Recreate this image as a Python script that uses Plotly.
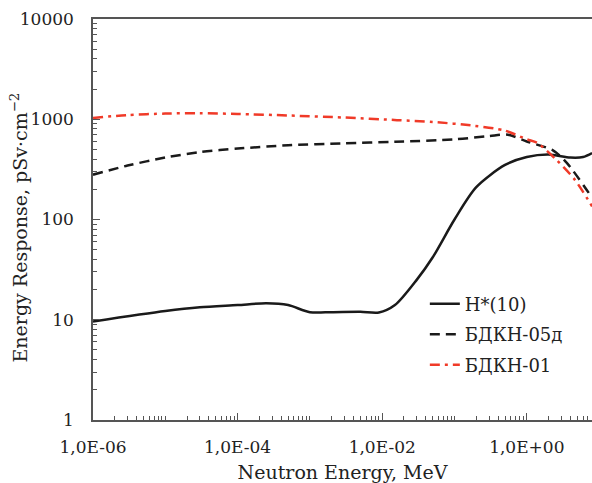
import plotly.graph_objects as go
import numpy as np

# Data
h_energy = [1e-6, 1e-5, 3e-5, 1e-4, 2.5e-4, 5e-4, 1e-3, 2e-3, 5e-3, 9e-3, 1.5e-2, 3e-2, 5e-2, 0.1, 0.2, 0.5, 1, 2, 4, 6, 8]
h_values = [9.6, 12.2, 13.3, 14.0, 14.6, 14.0, 11.9, 11.9, 12.0, 11.8, 14.0, 25, 42, 100, 210, 350, 420, 445, 415, 420, 460]

b05_energy = [1e-6, 3e-6, 1e-5, 3e-5, 1e-4, 5e-4, 3e-3, 1.5e-2, 0.1, 0.3, 0.55, 1, 2.3, 3.6, 8]
b05_values = [280, 345, 415, 470, 510, 550, 575, 595, 630, 680, 700, 600, 490, 365, 165]

b01_energy = [1e-6, 3e-6, 1e-5, 3e-5, 1e-4, 5e-4, 3e-3, 1.6e-2, 0.05, 0.19, 0.5, 1, 1.4, 2.6, 4.6, 8]
b01_values = [1030, 1100, 1140, 1150, 1130, 1090, 1040, 980, 940, 860, 770, 630, 580, 390, 250, 135]

series_names = ["H*(10)", "БДКН-05д", "БДКН-01"]

x_tick_vals = [1e-6, 1e-4, 1e-2, 1e0]
x_tick_text = ["1,0E-06", "1,0E-04", "1,0E-02", "1,0E+00"]
y_tick_vals = [1, 10, 100, 1000, 10000]
y_tick_text = ["1", "10", "100", "1000", "10000"]

x_title = "Neutron Energy, MeV"
y_title = "Energy Response, pSv·cm<sup>−2</sup>"

FONT = "DejaVu Serif"

fig = go.Figure()
fig.add_trace(go.Scatter(x=h_energy, y=h_values, name=series_names[0], mode="lines",
                         line=dict(color="#1a1a1a", width=2.5, shape="spline", smoothing=0.8),
                         legendgroup="a"))
fig.add_trace(go.Scatter(x=b05_energy, y=b05_values, name=series_names[1], mode="lines",
                         line=dict(color="#1a1a1a", width=2.5, dash="10px,6px", shape="spline", smoothing=0.8),
                         legendgroup="b"))
fig.add_trace(go.Scatter(x=b01_energy, y=b01_values, name=series_names[2], mode="lines",
                         line=dict(color="#f03a28", width=2.5, dash="10px,5px,3px,5px", shape="spline", smoothing=0.8),
                         legendgroup="c"))

# minor tick positions: every 2..9 multiple plus the unlabeled decades
minor_x = sorted([m * 10.0 ** d for d in range(-6, 1) for m in range(2, 10)] + [1e-5, 1e-3, 1e-1])
minor_y = [m * 10.0 ** d for d in range(0, 4) for m in range(2, 10)]

L, T, B = 93, 19, 63
W, H = 592, 483
plot_w = W - L

fig.update_layout(
    width=W, height=H,
    margin=dict(l=L, r=0, t=T, b=B),
    paper_bgcolor="white", plot_bgcolor="white",
    font=dict(family=FONT, size=17, color="#222"),
    showlegend=True,
    legend=dict(x=0.665, y=0.335, xanchor="left", yanchor="top",
                bgcolor="rgba(0,0,0,0)", font=dict(size=18, family=FONT),
                tracegroupgap=4, itemwidth=30),
    xaxis=dict(type="log", range=[-6, (592 - 93) / 72.3 - 6], automargin=False,
               tickvals=x_tick_vals, ticktext=x_tick_text,
               ticks="inside", ticklen=7, tickcolor="#555", tickwidth=1,
               showline=True, linecolor="#555", linewidth=1.5, mirror=True,
               showgrid=False, zeroline=False, ticklabelstandoff=11,
               minor=dict(tickvals=minor_x, ticks="inside", ticklen=4, tickcolor="#555", showgrid=False),
               tickfont=dict(size=17, family=FONT),
               title=dict(text=x_title, font=dict(size=19, family=FONT), standoff=15)),
    yaxis=dict(type="log", range=[0, 4], automargin=False,
               tickvals=y_tick_vals, ticktext=y_tick_text,
               ticks="inside", ticklen=7, tickcolor="#555", tickwidth=1,
               showline=True, linecolor="#555", linewidth=1.5, mirror=False,
               showgrid=False, zeroline=False, ticklabelstandoff=14,
               minor=dict(tickvals=minor_y, ticks="inside", ticklen=4, tickcolor="#555", showgrid=False),
               tickfont=dict(size=17, family=FONT)),
    annotations=[dict(text=y_title, textangle=-90, xref="paper", yref="paper",
                      x=(19 - L) / plot_w, y=0.48, xanchor="center", yanchor="middle",
                      showarrow=False, font=dict(size=19, family=FONT, color="#222"))],
)

fig.write_html("out.html", post_script="document.body.style.margin='0';",
               config={"displayModeBar": False})
